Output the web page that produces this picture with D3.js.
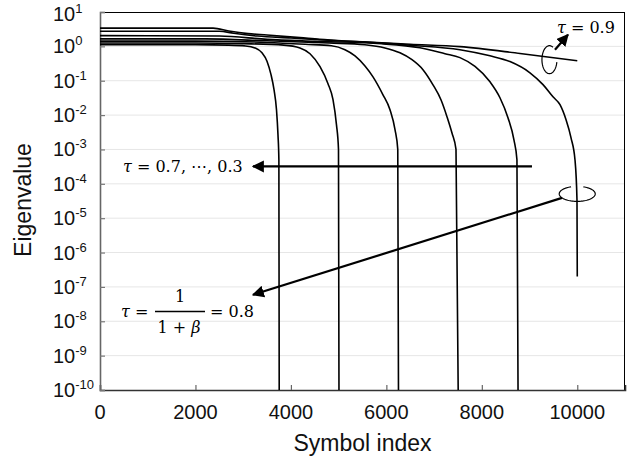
<!DOCTYPE html>
<html>
<head>
<meta charset="utf-8">
<script src="https://cdn.jsdelivr.net/npm/d3@7"></script>
<style>
  body { margin: 0; background: #fff; }
  svg { display: block; }
  .tick-label { font-family: "Liberation Sans", Arial, sans-serif; font-size: 20px; fill: #111; }
  .title { font-family: "Liberation Sans", Arial, sans-serif; font-size: 23px; fill: #111; }
  .math { font-family: "DejaVu Serif", "Liberation Serif", serif; font-size: 16px; fill: #000; }
</style>
</head>
<body>
<div id="chart"></div>
<script>
// tick values
const xTicks = [0, 2000, 4000, 6000, 8000, 10000];
const yExponents = [1, 0, -1, -2, -3, -4, -5, -6, -7, -8, -9, -10];

// sorted eigenvalues, [symbol index, eigenvalue], one list per tau
const curveTau03 = [[0, 1.12], [2000, 1.12], [2700, 1.09], [3050, 1.03], [3247, 0.9], [3394, 0.65],
  [3499, 0.37], [3583, 0.15], [3646, 0.055], [3698, 0.0143], [3729, 0.0027], [3748, 0.0005], [3757, 1e-12]];
const curveTau04 = [[0, 1.25], [2000, 1.25], [3000, 1.2], [3850, 1.09], [4190, 0.9], [4400, 0.61],
  [4610, 0.256], [4777, 0.082], [4882, 0.028], [4955, 0.0052], [4997, 0.001], [5010, 1e-12]];
const curveTau05 = [[0, 1.42], [2000, 1.42], [3500, 1.3], [4300, 1.15], [4850, 1.04], [5133, 0.8],
  [5343, 0.53], [5552, 0.27], [5720, 0.13], [5929, 0.039], [6076, 0.0143], [6181, 0.0038],
  [6239, 0.001], [6258, 1e-12]];
const curveTau06 = [[0, 1.65], [2200, 1.65], [3500, 1.45], [4800, 1.25], [5550, 1.11], [5971, 0.9],
  [6285, 0.65], [6537, 0.41], [6767, 0.21], [6977, 0.076], [7144, 0.028], [7270, 0.009],
  [7375, 0.003], [7459, 0.001], [7518, 1e-12]];
const curveTau07 = [[0, 2.05], [2500, 2.0], [3500, 1.6], [4500, 1.4], [5900, 1.19], [6704, 0.91],
  [7228, 0.61], [7542, 0.47], [7857, 0.26], [8171, 0.093], [8380, 0.032], [8548, 0.0084],
  [8673, 0.0019], [8736, 0.0005], [8766, 1e-12]];
const curveTau08 = [[0, 3.4], [2370, 3.4], [2700, 2.8], [3100, 2.35], [3500, 2.15], [4190, 1.8],
  [4600, 1.6], [5500, 1.35], [6500, 1.08], [7542, 0.8], [8171, 0.53], [8590, 0.36], [9009, 0.17],
  [9282, 0.077], [9491, 0.034], [9638, 0.02], [9763, 0.0074], [9868, 0.0022], [9952, 0.0005],
  [9994, 3.4e-5], [10000, 2e-7]];
const curveTau09 = [[0, 2.76], [2500, 2.76], [2800, 2.4], [3300, 2.0], [4000, 1.75], [4600, 1.55],
  [5500, 1.35], [6500, 1.15], [7542, 0.98], [8800, 0.62], [10000, 0.38]];

const curves = [curveTau03, curveTau04, curveTau05, curveTau06, curveTau07, curveTau08, curveTau09];

const width = 636, height = 467;
const margin = { top: 12, right: 11, bottom: 77, left: 100 };
const w = width - margin.left - margin.right;
const h = height - margin.top - margin.bottom;

// Scales
const xScale = d3.scaleLinear().domain([0, 11000]).range([0, w]);
const yScale = d3.scaleLog().domain([1e-10, 10]).range([h, 0]);

const svg = d3.select('#chart').append('svg')
  .attr('width', width)
  .attr('height', height);

const g = svg.append('g')
  .attr('transform', `translate(${ margin.left }, ${ margin.top })`);

g.append('defs').append('clipPath').attr('id', 'plot-clip')
  .append('rect').attr('width', w).attr('height', h);

// grid lines
g.selectAll('.grid')
  .data(yExponents.filter(e => e < 1 && e > -10))
  .enter()
  .append('line')
  .attr('x1', 0).attr('x2', w)
  .attr('y1', e => yScale(Math.pow(10, e)))
  .attr('y2', e => yScale(Math.pow(10, e)))
  .attr('stroke', '#e6e6e6')
  .attr('stroke-width', 1);

// frame top / right
g.append('line').attr('x1', 0).attr('x2', w).attr('y1', 0.5).attr('y2', 0.5)
  .attr('stroke', '#000').attr('stroke-width', 1);
g.append('line').attr('x1', w - 0.5).attr('x2', w - 0.5).attr('y1', 0).attr('y2', h)
  .attr('stroke', '#000').attr('stroke-width', 1);

// axes with inward ticks
const xAxis = d3.axisBottom(xScale).tickValues(xTicks).tickSize(-5).tickFormat('');
const yAxis = d3.axisLeft(yScale).tickValues(yExponents.map(e => Math.pow(10, e))).tickSize(-5).tickFormat('');

const gx = g.append('g').attr('transform', `translate(0, ${ h })`).call(xAxis);
gx.select('.domain').attr('stroke', '#333').attr('stroke-width', 1.6);
gx.selectAll('.tick line').attr('stroke', '#666').attr('stroke-width', 1.2);

const gy = g.append('g').call(yAxis);
gy.select('.domain').attr('stroke', '#666').attr('stroke-width', 1.6);
gy.selectAll('.tick line').attr('stroke', '#777').attr('stroke-width', 1.2);

// tick labels
g.selectAll('.xlab')
  .data(xTicks)
  .enter()
  .append('text')
  .attr('class', 'tick-label')
  .attr('x', d => xScale(d))
  .attr('y', h + 29)
  .attr('text-anchor', 'middle')
  .text(d => d);

const ylab = g.selectAll('.ylab')
  .data(yExponents)
  .enter()
  .append('text')
  .attr('class', 'tick-label')
  .attr('x', -47)
  .attr('y', e => yScale(Math.pow(10, e)) + (e === 1 ? 9 : 7));
ylab.append('tspan').text('10');
ylab.append('tspan').attr('dy', -8).style('font-size', '13px').text(e => e);

// axis titles
svg.append('text').attr('class', 'title')
  .attr('x', margin.left + xScale(5500))
  .attr('y', 451)
  .attr('text-anchor', 'middle')
  .text('Symbol index');

svg.append('text').attr('class', 'title')
  .attr('transform', `translate(31, ${ margin.top + h / 2 - 1 }) rotate(-90)`)
  .attr('text-anchor', 'middle')
  .text('Eigenvalue');

// curves
const line = d3.line()
  .x(d => xScale(d[0]))
  .y(d => yScale(d[1]))
  .curve(d3.curveMonotoneX);

g.append('g').attr('clip-path', 'url(#plot-clip)')
  .selectAll('path')
  .data(curves)
  .enter()
  .append('path')
  .attr('d', line)
  .attr('fill', 'none')
  .attr('stroke', '#000')
  .attr('stroke-width', 1.6);

// annotations
const defs = svg.append('defs');
defs.append('marker')
  .attr('id', 'arrow')
  .attr('viewBox', '0 0 10 10')
  .attr('refX', 9).attr('refY', 5)
  .attr('markerWidth', 5.5).attr('markerHeight', 5.5)
  .attr('markerUnits', 'strokeWidth')
  .attr('orient', 'auto')
  .append('path').attr('d', 'M0,0 L10,5 L0,10 z').attr('fill', '#000');

const ann = g.append('g');

function arrow(x1, v1, x2, v2) {
  ann.append('line')
    .attr('x1', xScale(x1)).attr('y1', yScale(v1))
    .attr('x2', xScale(x2)).attr('y2', yScale(v2))
    .attr('stroke', '#000').attr('stroke-width', 2.2)
    .attr('marker-end', 'url(#arrow)');
}

function openEllipse(xc, vc, rx, ry, a0, a1) {
  const cx = xScale(xc), cy = yScale(vc);
  const pts = d3.range(a0, a1 + 1, 4).map(a => {
    const t = a * Math.PI / 180;
    return [cx + rx * Math.cos(t), cy + ry * Math.sin(t)];
  });
  ann.append('path')
    .attr('d', d3.line()(pts))
    .attr('fill', 'none').attr('stroke', '#000').attr('stroke-width', 1.2);
}

function mathText(x, y, html, anchor) {
  return svg.append('text').attr('class', 'math')
    .attr('x', x).attr('y', y)
    .attr('text-anchor', anchor || 'start')
    .html(html);
}

// tau = 0.9
openEllipse(9417, 0.41, 7.5, 14, 10, 300);
arrow(9533, 0.8, 9805, 2.18);
mathText(557, 33, '<tspan font-style="italic">τ</tspan> = 0.9');

// tau = 0.7 ... 0.3
arrow(9051, 3.2e-4, 3205, 3.2e-4);
mathText(123, 172, '<tspan font-style="italic">τ</tspan> = 0.7, ⋯, 0.3');

// tau = 1/(1+beta) = 0.8
openEllipse(9999, 5.1e-5, 18, 7.5, 290, 610);
arrow(9680, 3.9e-5, 3205, 5.9e-8);
mathText(121, 317, '<tspan font-style="italic">τ</tspan> =');
mathText(180, 302, '1', 'middle');
svg.append('line').attr('x1', 155).attr('x2', 205).attr('y1', 311.5).attr('y2', 311.5)
  .attr('stroke', '#000').attr('stroke-width', 1.3);
mathText(179, 333, '1 + <tspan font-style="italic">β</tspan>', 'middle');
mathText(210, 317, '= 0.8');
</script>
</body>
</html>
